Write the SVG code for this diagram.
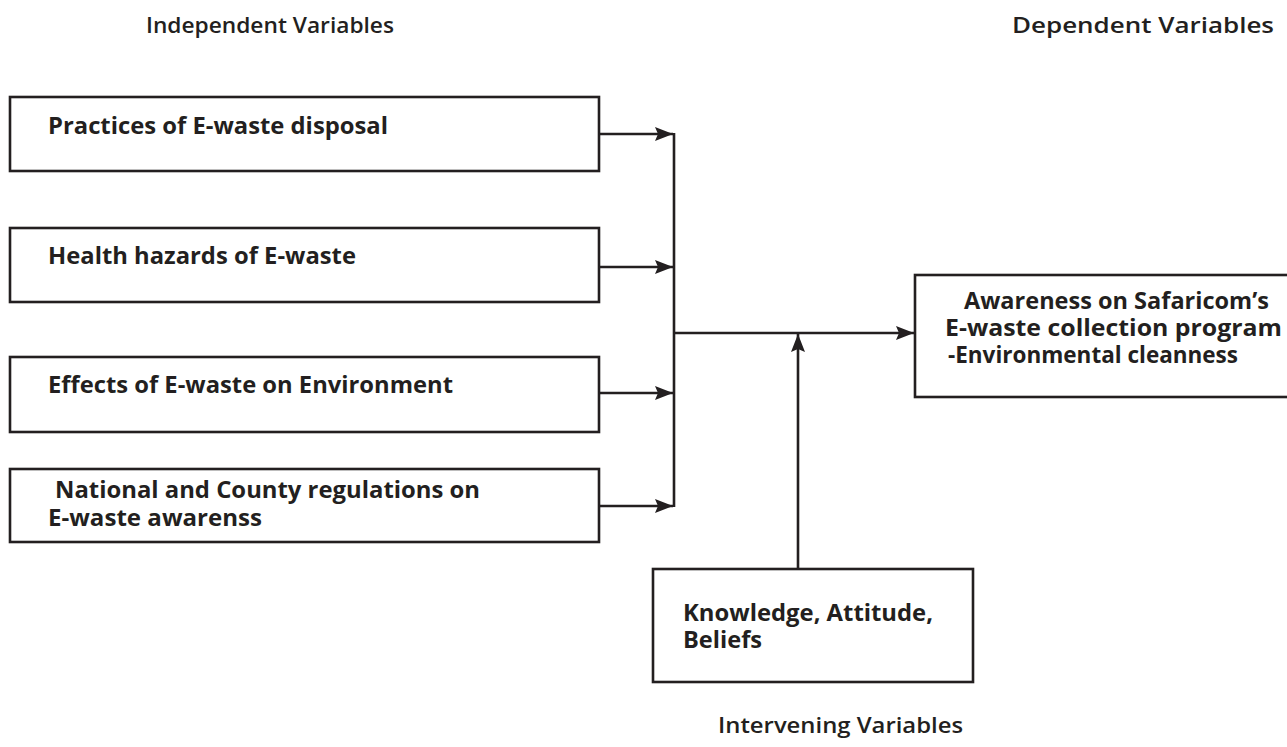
<svg xmlns="http://www.w3.org/2000/svg" width="1287" height="747" viewBox="0 0 1287 747">
<defs>
<style>
.box{fill:#fff;stroke:#231f20;stroke-width:2.6}
.t{font-family:"Open Sans","DejaVu Sans",sans-serif;font-weight:700;font-size:23px;fill:#231f20}
.h{font-family:"Open Sans","DejaVu Sans",sans-serif;font-weight:600;font-size:22px;fill:#231f20}
.c{fill:none;stroke:#231f20;stroke-width:2.6}
</style>
<marker id="a" viewBox="0 0 18 14" refX="18" refY="7" markerWidth="18" markerHeight="14" markerUnits="userSpaceOnUse" orient="auto">
<path d="M0,0 L18,7 L0,14 L3,7 z" fill="#231f20"/>
</marker>
</defs>
<rect width="1287" height="747" fill="#fff"/>
<text class="h" x="146" y="33" textLength="248" lengthAdjust="spacingAndGlyphs">Independent Variables</text>
<text class="h" x="1012" y="33" textLength="262" lengthAdjust="spacingAndGlyphs">Dependent Variables</text>
<text class="h" x="718" y="733" textLength="245" lengthAdjust="spacingAndGlyphs">Intervening Variables</text>
<g id="n1"><rect class="box" x="10" y="97" width="589" height="74"/><text class="t" x="48" y="134" textLength="340" lengthAdjust="spacingAndGlyphs">Practices of E-waste disposal</text></g>
<g id="n2"><rect class="box" x="10" y="228" width="589" height="74"/><text class="t" x="48" y="264" textLength="308" lengthAdjust="spacingAndGlyphs">Health hazards of E-waste</text></g>
<g id="n3"><rect class="box" x="10" y="357" width="589" height="75"/><text class="t" x="48" y="393" textLength="405" lengthAdjust="spacingAndGlyphs">Effects of E-waste on Environment</text></g>
<g id="n4"><rect class="box" x="10" y="469" width="589" height="73"/><text class="t" x="55" y="498" textLength="425" lengthAdjust="spacingAndGlyphs">National and County regulations on</text><text class="t" x="48" y="526" textLength="214" lengthAdjust="spacingAndGlyphs">E-waste awarenss</text></g>
<g id="n5"><rect class="box" x="915" y="275" width="380" height="122"/><text class="t" x="964" y="309" textLength="305" lengthAdjust="spacingAndGlyphs">Awareness on Safaricom’s</text><text class="t" x="945" y="336" textLength="337" lengthAdjust="spacingAndGlyphs">E-waste collection program</text><text class="t" x="948" y="363" textLength="290" lengthAdjust="spacingAndGlyphs">-Environmental cleanness</text></g>
<g id="n6"><rect class="box" x="653" y="569" width="320" height="113"/><text class="t" x="683" y="621" textLength="250" lengthAdjust="spacingAndGlyphs">Knowledge, Attitude,</text><text class="t" x="683" y="648" textLength="79" lengthAdjust="spacingAndGlyphs">Beliefs</text></g>
<g id="connectors">
<line class="c" x1="599" y1="134" x2="673" y2="134" marker-end="url(#a)"/>
<line class="c" x1="599" y1="267" x2="673" y2="267" marker-end="url(#a)"/>
<line class="c" x1="599" y1="393" x2="673" y2="393" marker-end="url(#a)"/>
<line class="c" x1="599" y1="506" x2="673" y2="506" marker-end="url(#a)"/>
<line class="c" x1="674" y1="133" x2="674" y2="507"/>
<line class="c" x1="674" y1="333" x2="914" y2="333" marker-end="url(#a)"/>
<line class="c" x1="798" y1="569" x2="798" y2="334" marker-end="url(#a)"/>
</g>
</svg>
